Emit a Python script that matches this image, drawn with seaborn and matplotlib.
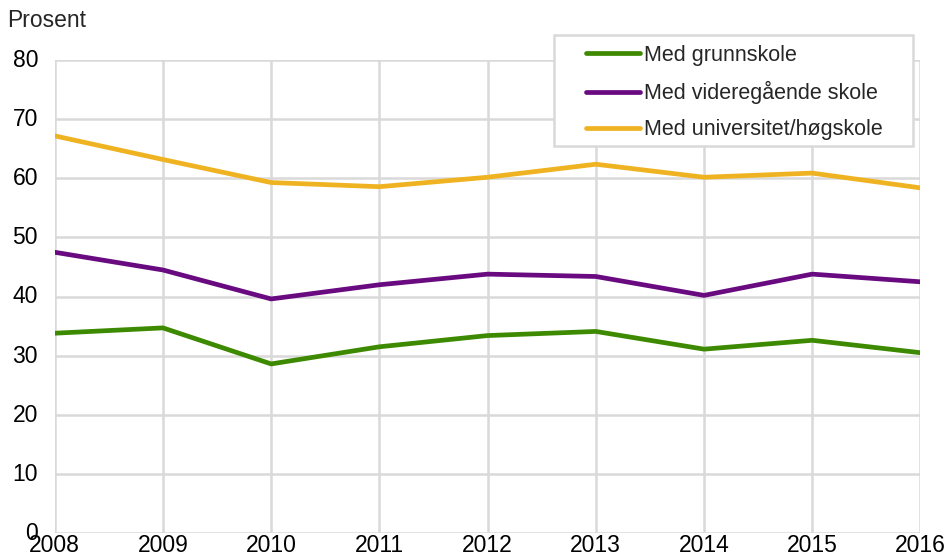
import pandas as pd
import matplotlib
matplotlib.use('Agg')
import matplotlib.pyplot as plt
import matplotlib.transforms as mtransforms
from matplotlib.patches import Rectangle
import seaborn as sns

# Data
years = [2008, 2009, 2010, 2011, 2012, 2013, 2014, 2015, 2016]
grunnskole = [33.8, 34.7, 28.6, 31.5, 33.4, 34.1, 31.1, 32.6, 30.5]
videregaende = [47.5, 44.5, 39.6, 42.0, 43.8, 43.4, 40.2, 43.8, 42.5]
universitet = [67.2, 63.2, 59.3, 58.6, 60.2, 62.4, 60.2, 60.9, 58.4]

series_names = ['Med grunnskole', 'Med videregående skole', 'Med universitet/høgskole']
colors = ['#3d8a00', '#6a0a80', '#efb321']

df = pd.DataFrame({'År': years,
                   series_names[0]: grunnskole,
                   series_names[1]: videregaende,
                   series_names[2]: universitet})
long_df = df.melt(id_vars='År', var_name='Serie', value_name='Prosent')

sns.set_theme(style='white')
plt.rcParams['font.family'] = ['Liberation Sans', 'DejaVu Sans']

fs = 16.5
W, H = 944, 558
fig = plt.figure(figsize=(W / 100, H / 100), dpi=100)
ax = fig.add_axes([0.058, 0.045, 0.917, 0.847])

sns.lineplot(data=long_df, x='År', y='Prosent', hue='Serie', hue_order=series_names,
             palette=colors, linewidth=3.4, ax=ax, legend=True)

ax.set_xlim(2008, 2016)
ax.set_ylim(0, 80)
ax.set_xticks(years)
ax.set_yticks(range(0, 81, 10))
ax.grid(True, color='#d9d9d9', linewidth=1.8)
ax.set_axisbelow(True)
for s in ax.spines.values():
    s.set_visible(False)
ax.tick_params(axis='both', length=0, labelsize=fs, colors='black')
ax.tick_params(axis='x', pad=1)
ax.tick_params(axis='y', pad=12)
ax.set_xlabel('')
ax.set_ylabel('')

# y labels sit a touch above their gridlines, as in the original
shift = mtransforms.ScaledTranslation(0, 1.5 / 72, fig.dpi_scale_trans)
for lab in ax.get_yticklabels():
    lab.set_transform(lab.get_transform() + shift)

fig.text(0.008, 0.963, 'Prosent', fontsize=fs, ha='left', va='center')

# legend box (white, light grey frame) drawn behind the legend entries
box = Rectangle((554 / W, 1 - 146 / H), (913 - 554) / W, (146 - 35) / H,
                transform=fig.transFigure, facecolor='white', edgecolor='#d9d9d9',
                linewidth=1.8, zorder=5, clip_on=False)
ax.add_patch(box)

leg = ax.legend(loc='upper left', bbox_to_anchor=(586 / W, 1 - 45 / H),
                bbox_transform=fig.transFigure, fontsize=15.5,
                frameon=False, handlelength=2.5, handletextpad=0.19,
                labelspacing=0.7, borderpad=0, borderaxespad=0)
leg.set_zorder(6)
for line in leg.get_lines():
    line.set_linewidth(3.4)

fig.savefig('out.png', dpi=100)
